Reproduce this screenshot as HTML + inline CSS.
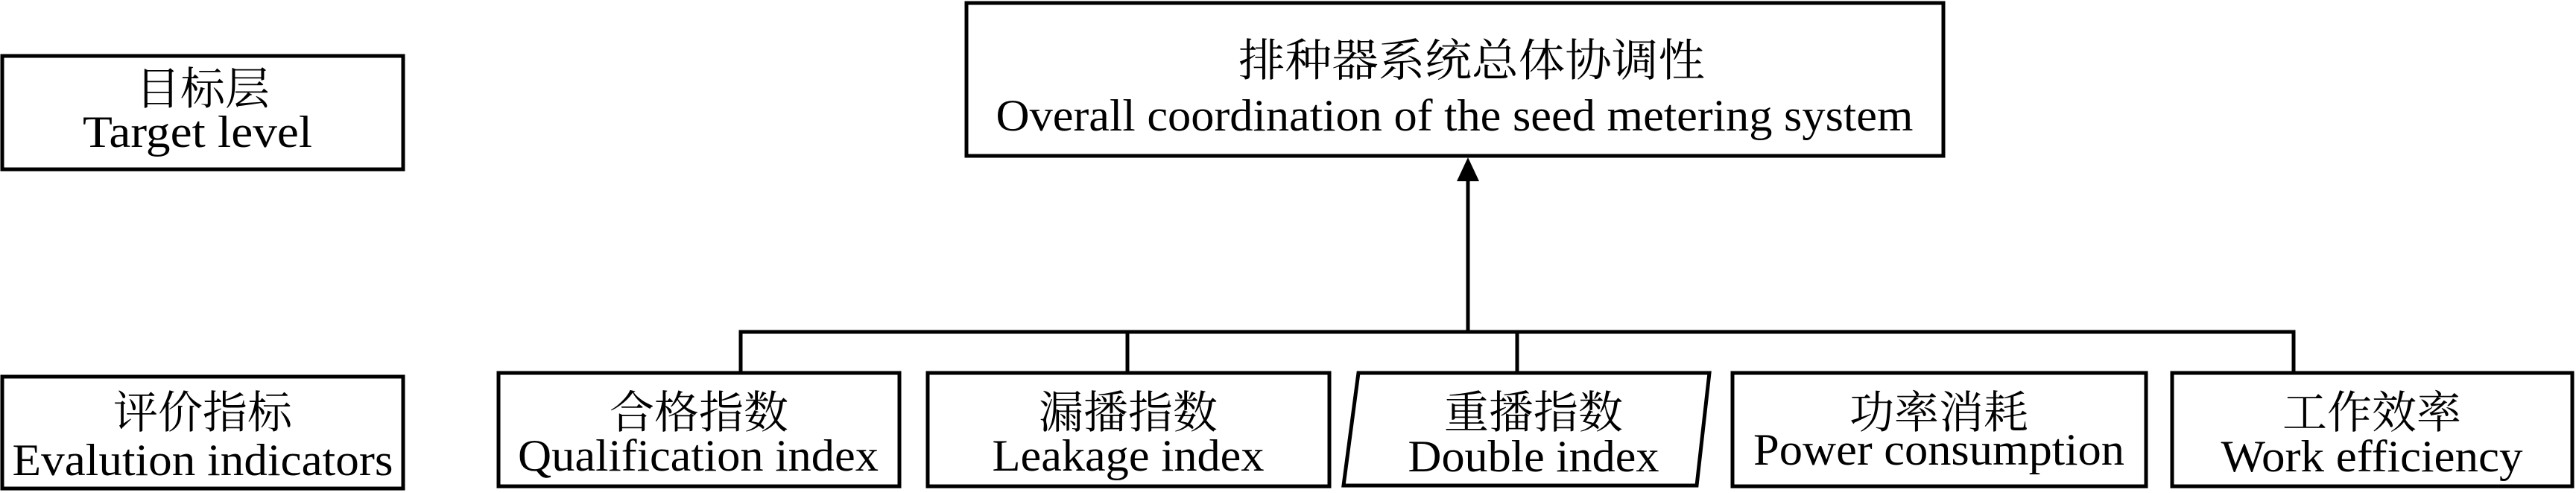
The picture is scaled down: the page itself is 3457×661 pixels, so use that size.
<!DOCTYPE html>
<html><head><meta charset="utf-8"><style>
html,body{margin:0;padding:0;background:#fff;}
svg{display:block;}
.c{font-family:"Noto Serif CJK SC","Noto Sans CJK SC",serif;font-size:60px;}
.e{font-family:"Liberation Serif",serif;font-size:60px;}
</style></head><body>
<svg width="3457" height="661" viewBox="0 0 3457 661" xmlns="http://www.w3.org/2000/svg">
<g fill="none" stroke="#000" stroke-width="5">
<rect x="3" y="75" width="538" height="152"/>
<rect x="1297" y="4" width="1311" height="205"/>
<rect x="3" y="505" width="538" height="150"/>
<rect x="669" y="500" width="538" height="152"/>
<rect x="1245" y="500" width="539" height="152"/>
<polygon points="1823,500 2294,500 2277,651 1803,651"/>
<rect x="2325" y="500" width="555" height="152"/>
<rect x="2915" y="500" width="537" height="152"/>
<line x1="1970" y1="240" x2="1970" y2="445"/>
<polyline points="994,500 994,445 3078,445 3078,500"/>
<line x1="1513" y1="445" x2="1513" y2="500"/>
<line x1="2036" y1="445" x2="2036" y2="500"/>
</g>
<polygon points="1970,211 1955,243 1985,243" fill="#000"/>
<g text-anchor="middle">
<text class="c" x="272" y="140">目标层</text>
<text class="e" x="265" y="197" textLength="308" lengthAdjust="spacingAndGlyphs">Target level</text>
<text class="c" x="1975" y="102" textLength="626" lengthAdjust="spacingAndGlyphs">排种器系统总体协调性</text>
<text class="e" x="1952" y="175" textLength="1231" lengthAdjust="spacingAndGlyphs">Overall coordination of the seed metering system</text>
<text class="c" x="272" y="574">评价指标</text>
<text class="e" x="272" y="637" textLength="511" lengthAdjust="spacingAndGlyphs">Evalution indicators</text>
<text class="c" x="938" y="574">合格指数</text>
<text class="e" x="937" y="631" textLength="484" lengthAdjust="spacingAndGlyphs">Qualification index</text>
<text class="c" x="1514" y="574">漏播指数</text>
<text class="e" x="1514" y="631" textLength="365" lengthAdjust="spacingAndGlyphs">Leakage index</text>
<text class="c" x="2058" y="574">重播指数</text>
<text class="e" x="2058" y="632" textLength="337" lengthAdjust="spacingAndGlyphs">Double index</text>
<text class="c" x="2602" y="574">功率消耗</text>
<text class="e" x="2602" y="623" textLength="498" lengthAdjust="spacingAndGlyphs">Power consumption</text>
<text class="c" x="3183" y="574">工作效率</text>
<text class="e" x="3183" y="632" textLength="405" lengthAdjust="spacingAndGlyphs">Work efficiency</text>
</g>
</svg>
</body></html>
